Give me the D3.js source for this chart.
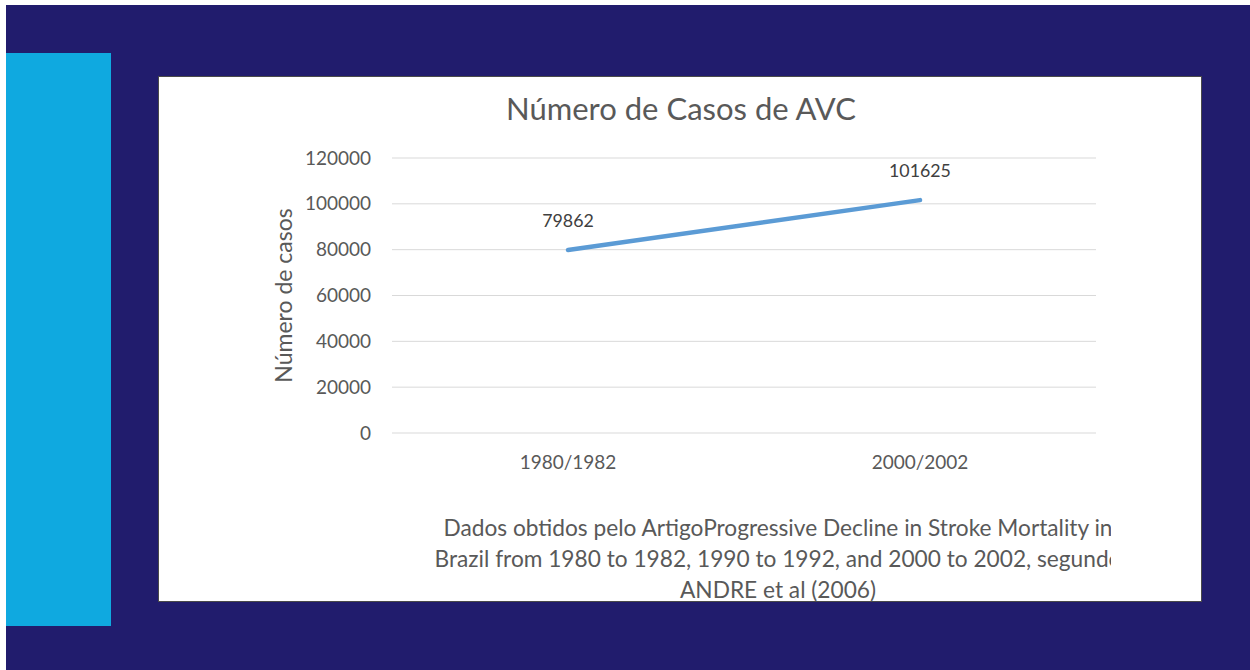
<!DOCTYPE html>
<html>
<head>
<meta charset="utf-8">
<script src="https://cdn.jsdelivr.net/npm/d3@7"></script>
<style>
  body { margin: 0; background: #fff; }
  svg { display: block; font-family: Lato, "Open Sans", sans-serif; }
</style>
</head>
<body>
<svg width="1250" height="670"></svg>
<script>
// data
const categories = ['1980/1982', '2000/2002'];
const casos = [79862, 101625];
const yTicks = [0, 20000, 40000, 60000, 80000, 100000, 120000];
const captionLines = [
  'Dados obtidos pelo ArtigoProgressive Decline in Stroke Mortality in',
  'Brazil from 1980 to 1982, 1990 to 1992, and 2000 to 2002, segundo',
  'ANDRE et al (2006)'
];

const svg = d3.select('svg');

// slide background
svg.append('rect').attr('x', 6).attr('y', 5).attr('width', 1244).attr('height', 665).attr('fill', '#211c6d');
svg.append('rect').attr('x', 6).attr('y', 53).attr('width', 105).attr('height', 573).attr('fill', '#0fa9e0');

// chart panel
svg.append('rect').attr('x', 158.5).attr('y', 76.5).attr('width', 1043).attr('height', 525)
  .attr('fill', '#fff').attr('stroke', '#4a4a4a').attr('stroke-width', 1);

const margin = {left: 392, right: 1096, top: 158, bottom: 433};

const x = d3.scaleBand().domain(categories).range([margin.left, margin.right]);
const y = d3.scaleLinear().domain([0, 120000]).range([margin.bottom, margin.top]);

// gridlines
svg.append('g').selectAll('line').data(yTicks).enter().append('line')
  .attr('x1', margin.left).attr('x2', margin.right)
  .attr('y1', d => y(d)).attr('y2', d => y(d))
  .attr('stroke', '#d9d9d9').attr('stroke-width', 1);

// y axis labels
const yAxis = d3.axisLeft(y).tickValues(yTicks).tickSize(0).tickPadding(0).tickFormat(d3.format('d'));
const gy = svg.append('g').attr('transform', `translate(${margin.left - 21},0)`).call(yAxis);
gy.select('.domain').remove();
gy.selectAll('text').attr('fill', '#595959').style('font-size', '19px').style('font-family', 'Lato, sans-serif');

// x axis labels
const xAxis = d3.axisBottom(x).tickSize(0).tickPadding(0);
const gx = svg.append('g').attr('transform', `translate(0,${margin.bottom + 22})`).call(xAxis);
gx.select('.domain').remove();
gx.selectAll('text').attr('fill', '#595959').style('font-size', '19px').style('font-family', 'Lato, sans-serif');

// title
svg.append('text').attr('x', 681).attr('y', 120).attr('text-anchor', 'middle')
  .attr('fill', '#595959').style('font-size', '31px').text('Número de Casos de AVC');

// y axis title
svg.append('text').attr('transform', `translate(292,${(margin.top + margin.bottom) / 2}) rotate(-90)`)
  .attr('text-anchor', 'middle').attr('fill', '#595959').style('font-size', '23px').text('Número de casos');

// line
const line = d3.line().x((d, i) => x(categories[i]) + x.bandwidth() / 2).y(d => y(d));
svg.append('path').datum(casos).attr('d', line)
  .attr('fill', 'none').attr('stroke', '#5b9bd5').attr('stroke-width', 4.5).attr('stroke-linecap', 'round');

// data labels
svg.append('g').selectAll('text').data(casos).enter().append('text')
  .attr('x', (d, i) => x(categories[i]) + x.bandwidth() / 2)
  .attr('y', d => y(d) - 23)
  .attr('text-anchor', 'middle').attr('fill', '#404040').style('font-size', '17.8px')
  .text(d => d);

// caption, clipped on the right like the original text box
svg.append('clipPath').attr('id', 'capclip').append('rect')
  .attr('x', 159).attr('y', 500).attr('width', 952).attr('height', 101);
svg.append('g').attr('clip-path', 'url(#capclip)').selectAll('text').data(captionLines).enter().append('text')
  .attr('x', 778).attr('y', (d, i) => 536 + i * 31)
  .attr('text-anchor', 'middle').attr('fill', '#595959').style('font-size', '22.7px')
  .text(d => d);
</script>
</body>
</html>
